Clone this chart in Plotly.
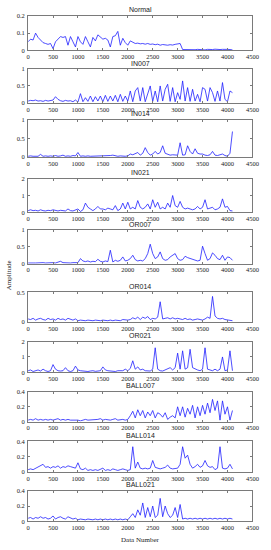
import plotly.graph_objects as go

# ---------------- data ----------------
step = 50

titles = ["Normal", "IN007", "IN014", "IN021", "OR007", "OR014", "OR021", "BALL007", "BALL014", "BALL021"]

normal = [0.05,0.065,0.06,0.1,0.075,0.06,0.045,0.04,0.035,0.04,
          0.01,0.05,0.065,0.08,0.075,0.08,0.03,0.08,0.05,0.02,
          0.08,0.05,0.035,0.08,0.05,0.02,0.075,0.055,0.09,0.08,
          0.065,0.07,0.06,0.02,0.08,0.085,0.11,0.03,0.07,0.045,
          0.03,0.055,0.045,0.04,0.042,0.038,0.04,0.036,0.04,0.035,
          0.037,0.033,0.036,0.03,0.034,0.032,0.03,0.033,0.031,0.035,
          0.038,0.04,0.005,0.004,0.006,0.003,0.005,0.004,0.006,0.004,
          0.005,0.003,0.006,0.004,0.005,0.007,0.004,0.005,0.006,0.004,
          0.006,0.005,0.003]

in007 = [0.05,0.07,0.06,0.08,0.05,0.06,0.04,0.07,0.05,0.06,
         0.08,0.18,0.1,0.06,0.04,0.07,0.05,0.06,0.03,0.08,
         0.02,0.27,0.03,0.15,0.04,0.2,0.03,0.18,0.05,0.2,
         0.03,0.22,0.04,0.2,0.05,0.22,0.03,0.25,0.04,0.2,
         0.05,0.35,0.03,0.35,0.45,0.05,0.45,0.03,0.3,0.5,
         0.04,0.35,0.03,0.5,0.05,0.4,0.55,0.04,0.45,0.03,
         0.3,0.1,0.65,0.05,0.45,0.04,0.4,0.05,0.25,0.03,
         0.45,0.4,0.05,0.45,0.3,0.04,0.35,0.05,0.6,0.1,
         0.03,0.35,0.3]

in014 = [0.02,0.03,0.02,0.03,0.02,0.07,0.02,0.03,0.02,0.03,
         0.02,0.04,0.02,0.03,0.05,0.02,0.03,0.02,0.04,0.03,
         0.12,0.02,0.03,0.02,0.03,0.02,0.02,0.03,0.02,0.03,
         0.02,0.03,0.02,0.04,0.05,0.03,0.02,0.03,0.02,0.02,
         0.03,0.08,0.06,0.09,0.12,0.05,0.1,0.25,0.12,0.05,
         0.08,0.15,0.08,0.12,0.3,0.1,0.07,0.05,0.06,0.05,
         0.05,0.38,0.05,0.06,0.3,0.15,0.08,0.22,0.1,0.08,
         0.08,0.05,0.04,0.06,0.15,0.05,0.04,0.06,0.08,0.04,
         0.02,0.1,0.68]

in021 = [0.1,0.15,0.1,0.12,0.08,0.15,0.1,0.08,0.12,0.1,
         0.15,0.1,0.08,0.12,0.1,0.08,0.2,0.1,0.08,0.12,
         0.2,0.05,0.15,0.55,0.3,0.2,0.1,0.2,0.35,0.2,
         0.2,0.15,0.25,0.2,0.15,0.4,0.1,0.2,0.55,0.2,
         0.6,0.2,0.3,0.2,0.7,0.3,0.2,0.3,0.5,0.2,
         0.75,0.3,0.6,0.2,0.3,0.2,0.55,0.3,1.0,0.4,
         0.3,0.65,0.3,0.2,0.25,0.2,0.15,0.2,0.35,0.2,
         0.3,0.75,0.2,0.25,0.3,0.15,0.2,0.3,0.8,0.3,
         0.35,0.1,0.08]

or007 = [0.02,0.03,0.02,0.02,0.03,0.04,0.03,0.02,0.03,0.02,
         0.03,0.02,0.04,0.07,0.03,0.02,0.03,0.02,0.03,0.02,
         0.03,0.15,0.08,0.06,0.08,0.05,0.07,0.06,0.13,0.07,
         0.05,0.08,0.06,0.4,0.05,0.1,0.07,0.1,0.2,0.08,
         0.1,0.15,0.25,0.12,0.08,0.1,0.08,0.15,0.3,0.58,
         0.3,0.15,0.2,0.35,0.15,0.1,0.12,0.2,0.25,0.3,
         0.15,0.1,0.12,0.22,0.18,0.15,0.12,0.1,0.08,0.1,
         0.52,0.3,0.1,0.15,0.32,0.25,0.15,0.12,0.25,0.1,
         0.2,0.18,0.1]

or014 = [0.05,0.04,0.06,0.03,0.05,0.06,0.04,0.03,0.06,0.04,
         0.05,0.03,0.06,0.04,0.05,0.03,0.06,0.04,0.03,0.05,
         0.02,0.03,0.02,0.02,0.03,0.02,0.02,0.03,0.02,0.02,
         0.03,0.02,0.02,0.03,0.02,0.03,0.02,0.02,0.04,0.03,
         0.03,0.04,0.07,0.05,0.08,0.04,0.08,0.06,0.09,0.04,
         0.06,0.05,0.08,0.34,0.05,0.06,0.07,0.05,0.07,0.05,
         0.06,0.05,0.04,0.06,0.04,0.05,0.03,0.04,0.05,0.04,
         0.03,0.05,0.08,0.06,0.43,0.1,0.06,0.05,0.06,0.04,
         0.03,0.03,0.02]

or021 = [0.1,0.15,0.05,0.1,0.15,0.08,0.2,0.1,0.05,0.1,
         0.5,0.2,0.1,0.08,0.1,0.3,0.1,0.05,0.1,0.4,
         0.15,0.1,0.08,0.1,0.05,0.08,0.1,0.06,0.08,0.1,
         0.35,0.15,0.1,0.08,0.1,0.05,0.1,0.08,0.1,0.2,
         0.1,0.25,0.75,0.2,0.35,0.15,0.2,0.1,0.1,0.08,
         0.2,1.6,0.2,0.1,0.08,0.15,0.2,0.3,0.15,0.3,
         1.25,0.2,1.4,0.2,0.3,1.5,0.3,0.2,0.15,0.1,
         0.2,1.6,0.2,0.15,0.1,0.2,0.1,0.2,1.0,0.1,
         0.15,1.4,0.1]

ball007 = [0.02,0.03,0.02,0.04,0.02,0.03,0.02,0.03,0.02,0.03,
           0.02,0.03,0.04,0.02,0.03,0.02,0.03,0.02,0.02,0.03,
           0.02,0.01,0.02,0.03,0.02,0.02,0.03,0.02,0.03,0.04,
           0.02,0.03,0.02,0.02,0.03,0.04,0.02,0.03,0.03,0.02,
           0.03,0.08,0.14,0.05,0.16,0.08,0.15,0.05,0.13,0.08,
           0.15,0.05,0.12,0.1,0.06,0.12,0.03,0.06,0.08,0.05,
           0.2,0.08,0.2,0.06,0.18,0.1,0.22,0.05,0.2,0.08,
           0.22,0.1,0.25,0.12,0.3,0.15,0.28,0.02,0.28,0.1,
           0.2,0.02,0.15]

ball014 = [0.03,0.04,0.03,0.05,0.07,0.08,0.1,0.06,0.07,0.05,
           0.07,0.06,0.08,0.05,0.07,0.06,0.08,0.07,0.06,0.05,
           0.12,0.04,0.03,0.05,0.02,0.03,0.02,0.03,0.02,0.03,
           0.05,0.02,0.03,0.02,0.04,0.03,0.02,0.03,0.04,0.03,
           0.02,0.03,0.33,0.05,0.13,0.05,0.04,0.05,0.04,0.05,
           0.15,0.06,0.05,0.04,0.05,0.06,0.09,0.05,0.04,0.05,
           0.05,0.1,0.33,0.18,0.22,0.1,0.05,0.07,0.1,0.06,
           0.08,0.15,0.08,0.06,0.07,0.03,0.05,0.33,0.05,0.04,
           0.05,0.1,0.04]

ball021 = [0.04,0.05,0.03,0.05,0.04,0.06,0.04,0.05,0.03,0.04,
           0.07,0.03,0.05,0.06,0.04,0.03,0.06,0.05,0.03,0.04,
           0.02,0.03,0.02,0.02,0.03,0.02,0.02,0.03,0.02,0.03,
           0.02,0.03,0.02,0.03,0.02,0.03,0.02,0.03,0.02,0.03,
           0.02,0.06,0.1,0.05,0.15,0.08,0.24,0.05,0.18,0.06,
           0.2,0.05,0.08,0.3,0.06,0.2,0.1,0.05,0.08,0.18,
           0.05,0.22,0.03,0.04,0.03,0.04,0.03,0.04,0.03,0.04,
           0.03,0.04,0.03,0.04,0.03,0.04,0.03,0.04,0.03,0.04,
           0.03,0.04,0.03]

series = [normal, in007, in014, in021, or007, or014, or021, ball007, ball014, ball021]

y_ranges = [[0, 0.2], [0, 1], [0, 1], [0, 2], [0, 1], [0, 0.5], [0, 2], [0, 0.4], [0, 0.4], [0, 0.4]]
y_ticks = [[0, 0.1, 0.2], [0, 0.5, 1], [0, 0.5, 1], [0, 1, 2], [0, 0.5, 1], [0, 0.5],
           [0, 1, 2], [0, 0.2, 0.4], [0, 0.2, 0.4], [0, 0.2, 0.4]]
y_ticktext = [["0", "0.1", "0.2"], ["0", "0.5", "1"], ["0", "0.5", "1"], ["0", "1", "2"],
              ["0", "0.5", "1"], ["0", "0.5"], ["0", "1", "2"], ["0", "0.2", "0.4"],
              ["0", "0.2", "0.4"], ["0", "0.2", "0.4"]]
x_ticks = [0, 500, 1000, 1500, 2000, 2500, 3000, 3500, 4000, 4500]

# ---------------- layout ----------------
W, H = 271, 550
left_px, right_px = 27, 259
boxes = [(12, 47), (66, 100), (117, 155), (177, 211), (229, 263),
         (292, 322), (342, 373), (393, 423), (443, 474), (493, 524)]

serif = "Liberation Serif, Times New Roman, serif"
sans = "Liberation Sans, Arial, sans-serif"
frame = "#7a7a7a"

fig = go.Figure()
layout = dict(
    width=W, height=H, margin=dict(l=0, r=0, t=0, b=0),
    paper_bgcolor="white", plot_bgcolor="white", showlegend=False,
)
annotations = []
for i, (ys, (top, bot)) in enumerate(zip(series, boxes)):
    n = i + 1
    xs = [k * step for k in range(len(ys))]
    fig.add_trace(go.Scatter(x=xs, y=ys, mode="lines",
                             line=dict(color="#1f1fff", width=0.8),
                             xaxis=f"x{n}", yaxis=f"y{n}", hoverinfo="skip"))
    xd = [left_px / W, right_px / W]
    yd = [1 - bot / H, 1 - top / H]
    common = dict(showgrid=False, zeroline=False, showline=True, linecolor=frame,
                  linewidth=1, mirror="ticks", ticks="inside", ticklen=2,
                  tickcolor=frame, tickwidth=1,
                  tickfont=dict(family=serif, size=6.5, color="#222"))
    layout[f"xaxis{n}"] = dict(domain=xd, anchor=f"y{n}", range=[0, 4500],
                               tickvals=x_ticks, ticktext=[str(v) for v in x_ticks],
                               ticklabelstandoff=0, **common)
    layout[f"yaxis{n}"] = dict(domain=yd, anchor=f"x{n}", range=y_ranges[i],
                               tickvals=y_ticks[i], ticktext=y_ticktext[i],
                               ticklabelstandoff=1, **common)
    annotations.append(dict(text=titles[i], x=(left_px + right_px) / 2 / W, y=yd[1],
                            xref="paper", yref="paper", xanchor="center", yanchor="middle",
                            yshift=6, showarrow=False, borderpad=0,
                            font=dict(family=sans, size=7, color="#222")))

annotations.append(dict(text="Amplitude", x=7 / W, y=1 - 275 / H, xref="paper", yref="paper",
                        textangle=-90, showarrow=False, xanchor="center", yanchor="middle",
                        font=dict(family=serif, size=7, color="#222")))
annotations.append(dict(text="Data Number", x=143 / W, y=1 - 543 / H, xref="paper", yref="paper",
                        showarrow=False, xanchor="center", yanchor="middle",
                        font=dict(family=serif, size=7, color="#222")))
layout["annotations"] = annotations
fig.update_layout(**layout)
fig.write_html("out.html", config={"displayModeBar": False},
               post_script="document.body.style.margin='0';document.body.style.overflow='hidden';")
